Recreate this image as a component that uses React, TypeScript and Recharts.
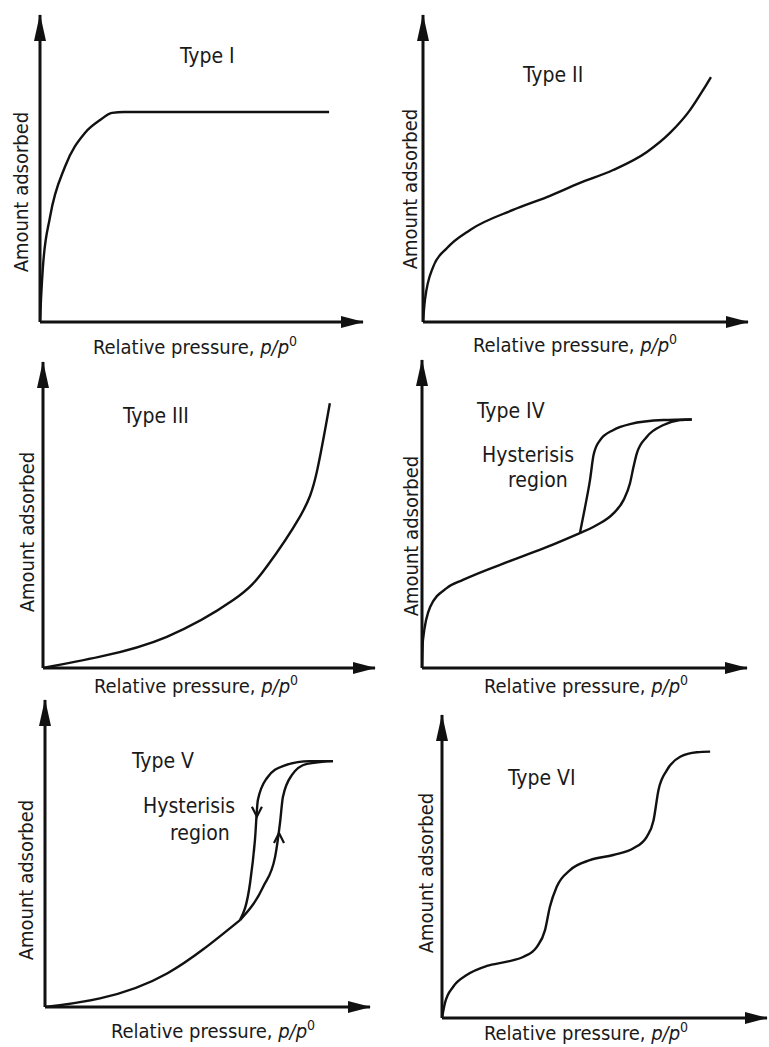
import React from 'react';
import { LineChart, Line, XAxis, YAxis, ReferenceLine, ReferenceDot } from 'recharts';

type Pt = { x: number; y: number };
const P = (x: number, y: number): Pt => ({ x, y });

// Type I isotherm
const typeI: Pt[] = [P(0, 0), P(0.003, 0.072), P(0.009, 0.179), P(0.031, 0.342), P(0.077, 0.505), P(0.139, 0.616), P(0.186, 0.658), P(0.223, 0.681), P(0.26, 0.684), P(0.895, 0.684)];
// Type II isotherm
const typeII: Pt[] = [P(0, 0), P(0.006, 0.072), P(0.031, 0.179), P(0.074, 0.241), P(0.145, 0.3), P(0.277, 0.365), P(0.381, 0.407), P(0.483, 0.453), P(0.585, 0.495), P(0.689, 0.554), P(0.76, 0.616), P(0.822, 0.691), P(0.862, 0.756), P(0.886, 0.798)];
// Type III isotherm
const typeIII: Pt[] = [P(0, 0), P(0.172, 0.037), P(0.373, 0.102), P(0.573, 0.222), P(0.673, 0.33), P(0.774, 0.495), P(0.824, 0.637), P(0.864, 0.865)];
// Type IV isotherm
const typeIVMain: Pt[] = [P(0, 0), P(0.003, 0.091), P(0.025, 0.198), P(0.077, 0.26), P(0.126, 0.286), P(0.28, 0.351), P(0.385, 0.393), P(0.486, 0.438)];
const typeIVAdsorption: Pt[] = [P(0.486, 0.438), P(0.538, 0.464), P(0.589, 0.502), P(0.62, 0.545), P(0.64, 0.6), P(0.651, 0.654), P(0.661, 0.697), P(0.692, 0.751), P(0.743, 0.789), P(0.794, 0.805), P(0.83, 0.807)];
const typeIVDesorption: Pt[] = [P(0.486, 0.438), P(0.502, 0.524), P(0.517, 0.611), P(0.528, 0.692), P(0.548, 0.74), P(0.589, 0.773), P(0.64, 0.792), P(0.743, 0.805), P(0.83, 0.807)];
// Type V isotherm
const typeVMain: Pt[] = [P(0, 0), P(0.169, 0.028), P(0.377, 0.11), P(0.6, 0.283)];
const typeVAdsorption: Pt[] = [P(0.6, 0.283), P(0.671, 0.391), P(0.708, 0.489), P(0.723, 0.599), P(0.732, 0.684), P(0.76, 0.756), P(0.806, 0.792), P(0.886, 0.801)];
const typeVDesorption: Pt[] = [P(0.6, 0.283), P(0.631, 0.404), P(0.646, 0.544), P(0.655, 0.674), P(0.683, 0.746), P(0.732, 0.785), P(0.815, 0.801), P(0.886, 0.801)];
const typeVArrows = [{ x: 0.652, y: 0.62, dir: 'down' }, { x: 0.72, y: 0.567, dir: 'up' }];
// Type VI isotherm
const typeVI: Pt[] = [P(0, 0), P(0.009, 0.049), P(0.035, 0.104), P(0.076, 0.142), P(0.138, 0.172), P(0.2, 0.186), P(0.251, 0.202), P(0.292, 0.235), P(0.317, 0.29), P(0.332, 0.367), P(0.353, 0.433), P(0.394, 0.488), P(0.455, 0.521), P(0.527, 0.538), P(0.589, 0.56), P(0.63, 0.598), P(0.651, 0.653), P(0.666, 0.752), P(0.692, 0.818), P(0.733, 0.862), P(0.784, 0.877), P(0.825, 0.879)];

const titles = ['Type I', 'Type II', 'Type III', 'Type IV', 'Type V', 'Type VI'];
const yAxisTitle = 'Amount adsorbed';
const xAxisTitle = 'Relative pressure, ';

const FONT = "'DejaVu Sans Condensed', 'DejaVu Sans', sans-serif";
const INK = '#111';
const PAD = 14;

type Series = { pts: Pt[]; curve: 'monotone' | 'natural' };
const S = (pts: Pt[], curve: 'monotone' | 'natural' = 'monotone'): Series => ({ pts, curve });

type Panel = {
  left: number; top: number; w: number; h: number;
  series: Series[];
  arrows?: { x: number; y: number; dir: string }[];
  title: [number, number];
  notes?: [string, number, number][];
  xl: [number, number];
  yl: [number, number];
};

const panels: Panel[] = [
  { left: 40, top: 15, w: 323, h: 307, series: [S(typeI)], title: [180, 63], xl: [195, 354], yl: [21, 192] },
  { left: 423, top: 15, w: 325, h: 307, series: [S(typeII)], title: [523, 82], xl: [575, 352], yl: [410, 189] },
  { left: 43, top: 362, w: 332, h: 306, series: [S(typeIII, 'natural')], title: [123, 423], xl: [196, 693], yl: [27, 532] },
  { left: 422, top: 360, w: 325, h: 308, series: [S(typeIVMain), S(typeIVAdsorption), S(typeIVDesorption)], title: [477, 418], notes: [['Hysterisis', 482, 462], ['region', 508, 487]], xl: [586, 693], yl: [411, 536] },
  { left: 45, top: 700, w: 325, h: 307, series: [S(typeVMain, 'natural'), S(typeVAdsorption), S(typeVDesorption)], arrows: typeVArrows, title: [132, 768], notes: [['Hysterisis', 143, 813], ['region', 170, 840]], xl: [213, 1038], yl: [26, 880] },
  { left: 442, top: 715, w: 325, h: 303, series: [S(typeVI)], title: [508, 785], xl: [586, 1040], yl: [426, 873] },
];

const xHead = (p: any) => (
  <polygon points={`${p.cx + 1},${p.cy} ${p.cx - 22},${p.cy - 6} ${p.cx - 22},${p.cy + 6}`} fill={INK} />
);
const yHead = (p: any) => (
  <polygon points={`${p.cx},${p.cy - 1} ${p.cx - 6},${p.cy + 26} ${p.cx + 6},${p.cy + 26}`} fill={INK} />
);
const chevron = (dir: string) => (p: any) => {
  const s = dir === 'down' ? -1 : 1;
  return (
    <polyline
      points={`${p.cx - 5},${p.cy + s * 10} ${p.cx},${p.cy} ${p.cx + 5},${p.cy + s * 10}`}
      fill="none" stroke={INK} strokeWidth={2.2} strokeLinejoin="miter"
    />
  );
};

function PanelChart({ pn }: { pn: Panel }) {
  return (
    <div style={{ position: 'absolute', left: pn.left - PAD, top: pn.top - PAD }}>
      <LineChart width={pn.w + 2 * PAD} height={pn.h + 2 * PAD} margin={{ top: PAD, right: PAD, bottom: PAD, left: PAD }}>
        <XAxis type="number" dataKey="x" domain={[0, 1]} hide allowDataOverflow />
        <YAxis type="number" dataKey="y" domain={[0, 1]} hide allowDataOverflow />
        <ReferenceLine y={0} stroke={INK} strokeWidth={3} />
        <ReferenceLine x={0} stroke={INK} strokeWidth={3} />
        {pn.series.map((s, k) => (
          <Line key={k} data={s.pts} dataKey="y" type={s.curve} stroke={INK} strokeWidth={2.4} dot={false} isAnimationActive={false} />
        ))}
        <ReferenceDot x={1} y={0} r={0} shape={xHead} />
        <ReferenceDot x={0} y={1} r={0} shape={yHead} />
        {(pn.arrows || []).map((a, k) => (
          <ReferenceDot key={'a' + k} x={a.x} y={a.y} r={0} shape={chevron(a.dir)} />
        ))}
      </LineChart>
    </div>
  );
}

export default function App() {
  return (
    <div style={{ position: 'absolute', left: 0, top: 0, width: 769, height: 1047, background: '#fff', overflow: 'hidden' }}>
      {panels.map((pn, i) => <PanelChart key={i} pn={pn} />)}
      <svg width={769} height={1047} style={{ position: 'absolute', left: 0, top: 0, pointerEvents: 'none' }}>
        <g fontFamily={FONT} fontSize={20} fill="#1a1a1a">
          {panels.map((pn, i) => (
            <g key={i}>
              <text x={pn.title[0]} y={pn.title[1]} fontSize={21}>{titles[i]}</text>
              {(pn.notes || []).map((n, k) => (
                <text key={k} x={n[1]} y={n[2]} fontSize={21}>{n[0]}</text>
              ))}
              <text x={pn.xl[0]} y={pn.xl[1]} textAnchor="middle">
                {xAxisTitle}
                <tspan fontStyle="italic">p</tspan>
                <tspan fontStyle="italic">/</tspan>
                <tspan fontStyle="italic">p</tspan>
                <tspan dy={-8} fontSize={14}>0</tspan>
              </text>
              <text
                x={pn.yl[0]} y={pn.yl[1]} textAnchor="middle" dominantBaseline="central"
                transform={`rotate(-90 ${pn.yl[0]} ${pn.yl[1]})`}
              >{yAxisTitle}</text>
            </g>
          ))}
        </g>
      </svg>
    </div>
  );
}
